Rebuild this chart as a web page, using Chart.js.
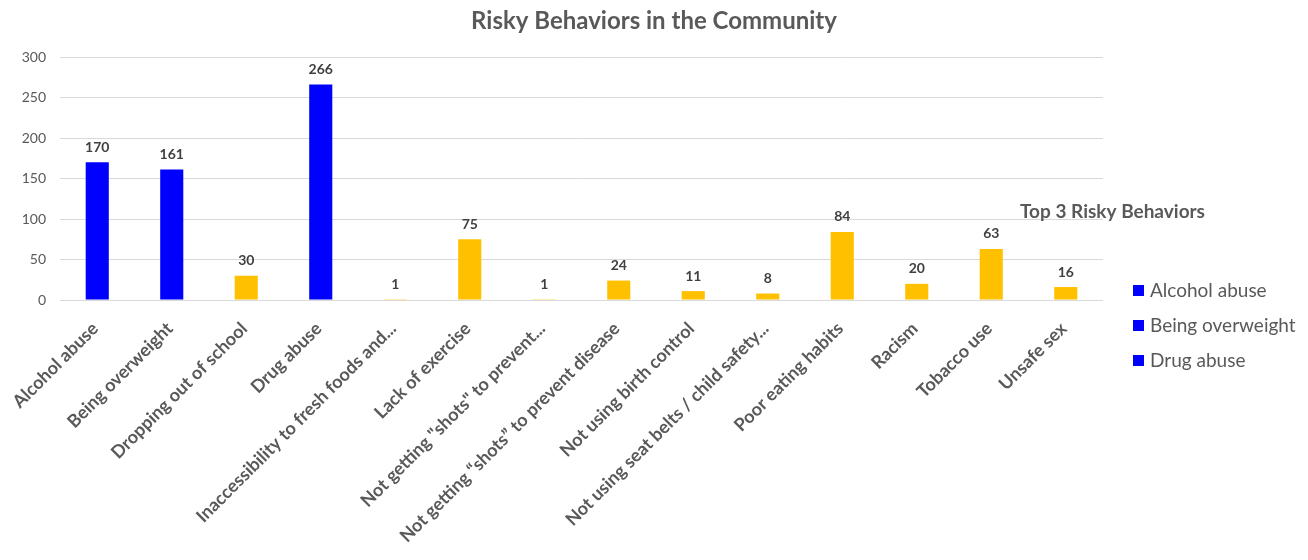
<!DOCTYPE html>
<html>
<head>
<meta charset="utf-8">
<script src="https://cdn.jsdelivr.net/npm/chart.js@4/dist/chart.umd.min.js"></script>
<style>
  html, body { margin: 0; padding: 0; background: #fff; }
  #wrap { width: 1308px; height: 560px; position: relative; }
</style>
</head>
<body>
<div id="wrap"><canvas id="riskChart"></canvas></div>
<script>
// behaviours and how many people named each one
const behaviors = [
  "Alcohol abuse",
  "Being overweight",
  "Dropping out of school",
  "Drug abuse",
  "Inaccessibility to fresh foods and...",
  "Lack of exercise",
  "Not getting \"shots\" to prevent...",
  "Not getting \u201cshots\u201d to prevent disease",
  "Not using birth control",
  "Not using seat belts / child safety...",
  "Poor eating habits",
  "Racism",
  "Tobacco use",
  "Unsafe sex"
];
const counts = [170, 161, 30, 266, 1, 75, 1, 24, 11, 8, 84, 20, 63, 16];

// the three highest get the blue colour and a legend entry
const topThree = ["Alcohol abuse", "Being overweight", "Drug abuse"];
const legendTitle = "Top 3 Risky Behaviors";
const chartTitle = "Risky Behaviors in the Community";

const yTicks = [0, 50, 100, 150, 200, 250, 300];

const BLUE = "#0000FF";
const GOLD = "#FFC000";
const GREY = "#595959";
const FONT = "Lato, 'Open Sans', sans-serif";

const barColors = behaviors.map(function (b) {
  return topThree.includes(b) ? BLUE : GOLD;
});

// numbers above each bar
const valueLabels = {
  id: "valueLabels",
  afterDatasetsDraw(chart) {
    const c = chart.ctx;
    const meta = chart.getDatasetMeta(0);
    c.save();
    c.font = "bold 14px " + FONT;
    c.fillStyle = "#404040";
    c.textAlign = "center";
    c.textBaseline = "bottom";
    meta.data.forEach(function (bar, i) {
      c.fillText(String(counts[i]), bar.x, bar.y - 8);
    });
    c.restore();
  }
};

// title across the whole canvas + legend block on the right
const sideLegend = {
  id: "sideLegend",
  afterDraw(chart) {
    const c = chart.ctx;
    c.save();
    c.fillStyle = GREY;
    c.textBaseline = "middle";
    c.textAlign = "center";
    c.font = "bold 24px " + FONT;
    c.fillText(chartTitle, chart.width / 2, 21);

    c.textAlign = "left";
    c.font = "bold 19px " + FONT;
    c.fillText(legendTitle, 1020, 212);
    c.font = "19px " + FONT;
    topThree.forEach(function (name, i) {
      const y = 291 + i * 35;
      c.fillStyle = BLUE;
      c.fillRect(1133, y - 6, 11, 11);
      c.fillStyle = GREY;
      c.fillText(name, 1150, y);
    });
    c.restore();
  }
};

const data = {
  labels: behaviors,
  datasets: [
    {
      label: "Count",
      data: counts,
      backgroundColor: barColors,
      borderWidth: 0,
      categoryPercentage: 1,
      barPercentage: 0.31
    }
  ]
};

const config = {
  type: "bar",
  data: data,
  options: {
    responsive: true,
    maintainAspectRatio: false,
    animation: false,
    layout: { padding: { left: 0, right: 205, top: 57, bottom: 0 } },
    plugins: {
      legend: { display: false },
      tooltip: { enabled: false },
      title: { display: false }
    },
    scales: {
      x: {
        grid: { display: false },
        border: { display: false },
        ticks: {
          color: GREY,
          font: { family: FONT, size: 18, weight: "bold" },
          maxRotation: 45,
          minRotation: 45,
          autoSkip: false,
          padding: 10,
          labelOffset: -2
        },
        afterFit(scale) { scale.height = 260; }
      },
      y: {
        min: 0,
        max: 300,
        afterBuildTicks(scale) {
          scale.ticks = yTicks.map(function (v) { return { value: v }; });
        },
        grid: { color: "#D9D9D9", lineWidth: 1, drawTicks: false },
        border: { display: false },
        ticks: {
          color: GREY,
          font: { family: FONT, size: 14 },
          padding: 14
        },
        afterFit(scale) { scale.width = 60; }
      }
    }
  },
  plugins: [valueLabels, sideLegend]
};

const riskChart = new Chart(document.getElementById("riskChart"), config);
</script>
</body>
</html>
